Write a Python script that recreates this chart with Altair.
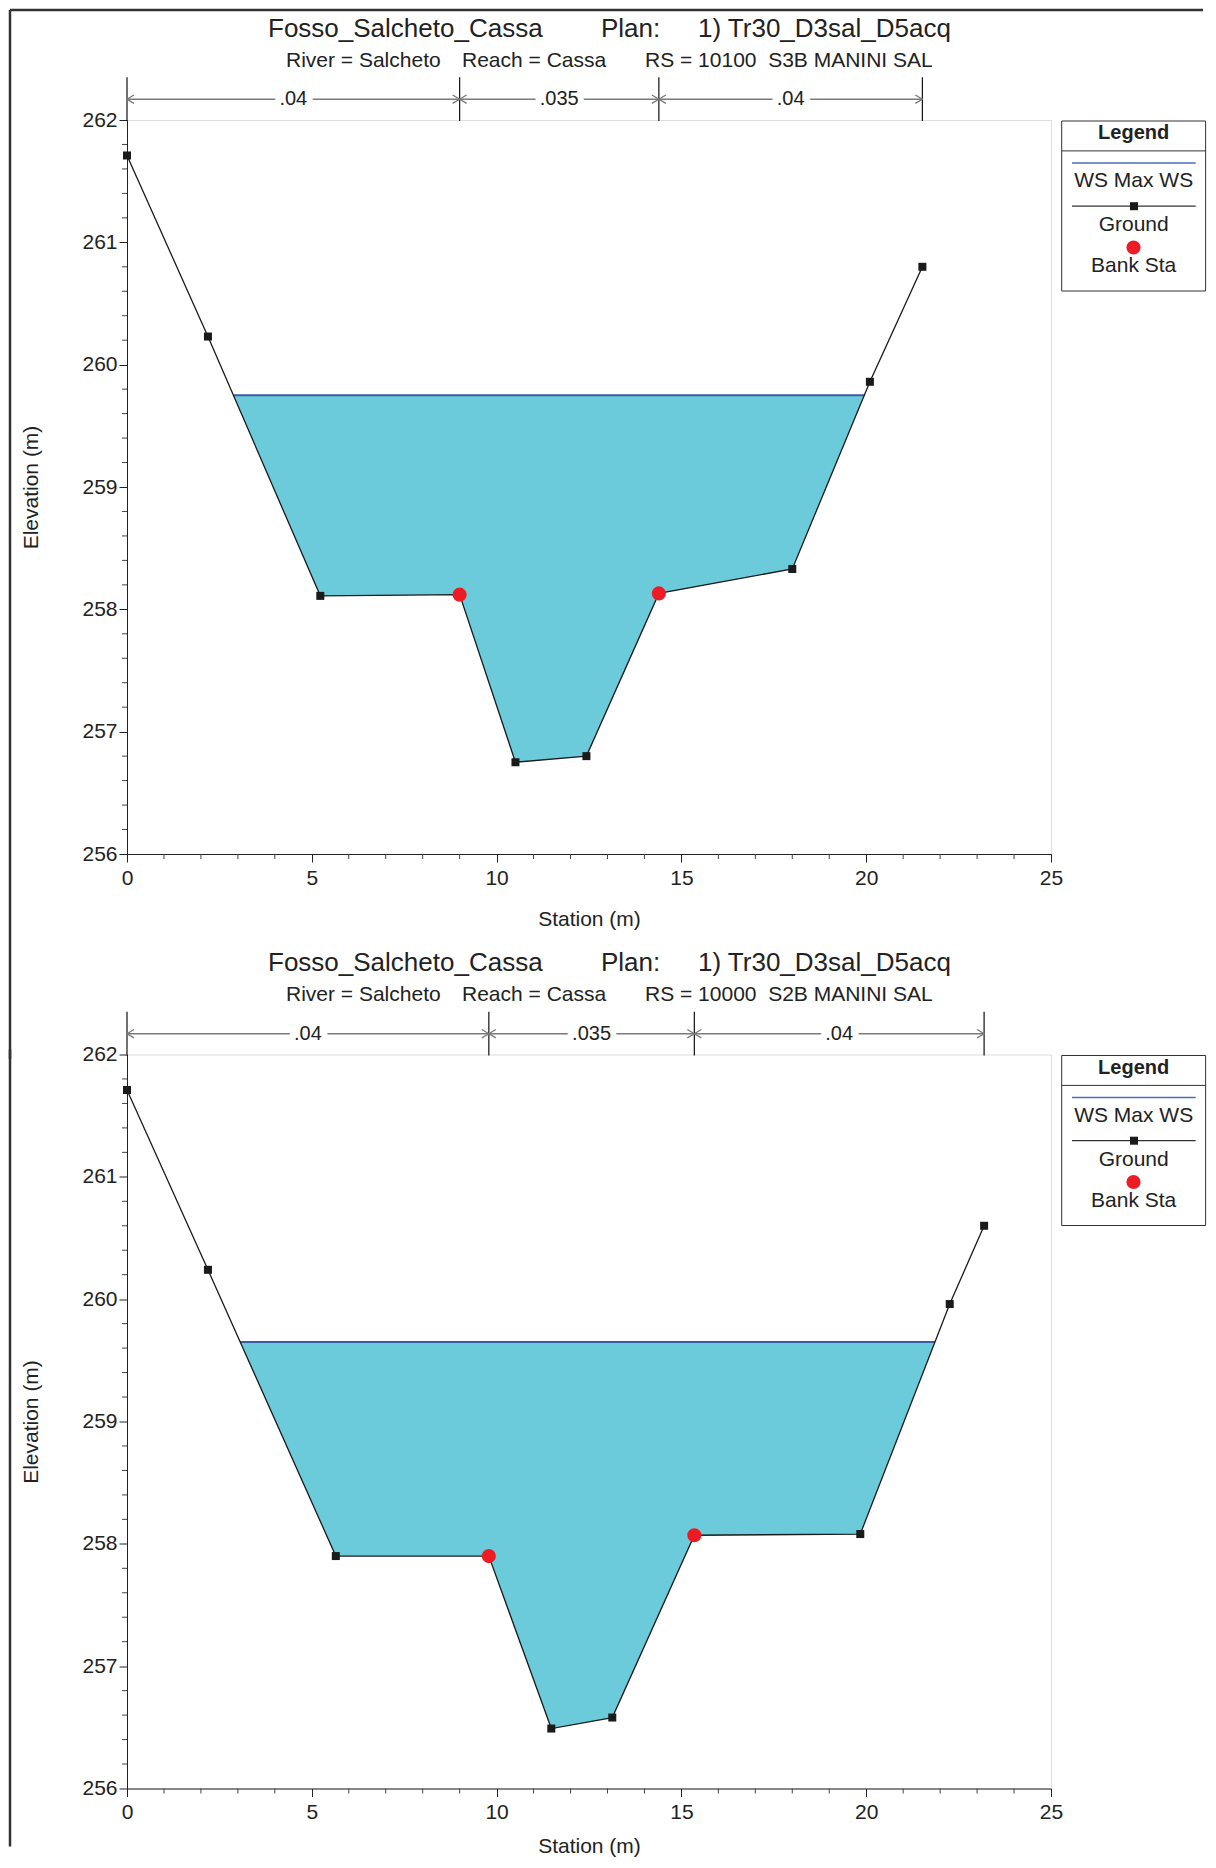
import altair as alt
import pandas as pd
import numpy as np

FONT = "Liberation Sans"
TXT = "#222222"

# ---------------- data ----------------
title_left = "Fosso_Salcheto_Cassa"
title_mid = "Plan:"
title_right = "1) Tr30_D3sal_D5acq"
sub_river = "River = Salcheto"
sub_reach = "Reach = Cassa"

# Panel 1 : RS 10100
rs_1 = "RS = 10100\u00a0\u00a0S3B MANINI SAL"
sta_1 = [0.0, 2.19, 5.23, 9.00, 10.51, 12.43, 14.39, 18.00, 20.10, 21.52]
elev_1 = [261.71, 260.23, 258.11, 258.12, 256.75, 256.80, 258.13, 258.33, 259.86, 260.80]
bank_1 = [9.00, 14.39]
ws_1 = 259.75
ws_edges_1 = [2.88, 19.95]
nbounds_1 = [0.0, 9.00, 14.39, 21.52]

# Panel 2 : RS 10000
rs_2 = "RS = 10000\u00a0\u00a0S2B MANINI SAL"
sta_2 = [0.0, 2.19, 5.65, 9.79, 11.48, 13.13, 15.35, 19.84, 22.26, 23.19]
elev_2 = [261.71, 260.24, 257.90, 257.90, 256.49, 256.58, 258.07, 258.08, 259.96, 260.60]
bank_2 = [9.79, 15.35]
ws_2 = 259.65
ws_edges_2 = [3.06, 21.86]
nbounds_2 = [0.0, 9.79, 15.35, 23.19]

n_values = [".04", ".035", ".04"]

x_major = [0, 5, 10, 15, 20, 25]
y_major = [256, 257, 258, 259, 260, 261, 262]

legend_items = ["WS Max WS", "Ground", "Bank Sta"]

# ---------------- layout constants ----------------
W, H = 924, 734
WATER = "#6CCBDB"
WSCOL = "#3A5BA9"
BANKCOL = "#ED1C24"
GRAY = "#7a7a7a"

xscale = alt.Scale(domain=[0, 25], nice=False, zero=False)
yscale = alt.Scale(domain=[256, 262], nice=False, zero=False)
yaxis = alt.Axis(values=y_major, title="Elevation (m)", labelFont=FONT, labelFontSize=21,
                 labelColor=TXT, labelPadding=2, labelFlush=False, tickSize=8,
                 tickColor=TXT, domainColor=TXT, grid=False, titleFont=FONT,
                 titleFontSize=21, titleFontWeight="normal", titleColor=TXT,
                 titleX=-96, titleY=H / 2, titleAngle=270, titleBaseline="middle",
                 titleAlign="center")


def make_xaxis(title_y):
    return alt.Axis(values=x_major, title="Station (m)", labelFont=FONT, labelFontSize=21,
                    labelColor=TXT, labelPadding=5, labelFlush=False, tickSize=8,
                    tickColor=TXT, domainColor=TXT, grid=False, titleFont=FONT,
                    titleFontSize=21, titleFontWeight="normal", titleColor=TXT,
                    titleX=W / 2, titleY=title_y, titleBaseline="middle",
                    titleAlign="center")


dummy = pd.DataFrame({"d": [0]})


def ptext(txt, x, y, size=21, weight="normal", align="left"):
    return alt.Chart(dummy).mark_text(text=txt, font=FONT, fontSize=size, fontWeight=weight,
                                      align=align, baseline="middle", color=TXT).encode(
        x=alt.value(x), y=alt.value(y))


def prule(x1, y1, x2, y2, color, width):
    return alt.Chart(dummy).mark_rule(color=color, strokeWidth=width).encode(
        x=alt.value(x1), y=alt.value(y1), x2=alt.value(x2), y2=alt.value(y2))


def panel(sta, elev, bank, ws, edges, nb, rs, top):
    xaxis = make_xaxis(65 if top else 58)

    def X(f):
        return alt.X(f, type="quantitative", scale=xscale, axis=xaxis)

    def Y(f):
        return alt.Y(f, type="quantitative", scale=yscale, axis=yaxis)

    ground = pd.DataFrame({"sta": sta, "elev": elev})
    inside = ground[(ground.sta > edges[0]) & (ground.sta < edges[1])]
    water = pd.concat([
        pd.DataFrame({"sta": [edges[0]], "elev": [ws]}),
        inside,
        pd.DataFrame({"sta": [edges[1]], "elev": [ws]}),
    ], ignore_index=True)
    water["ws"] = ws
    banks = ground[ground.sta.isin(bank)]
    wsdf = pd.DataFrame({"x1": [edges[0]], "x2": [edges[1]], "ws": [ws]})
    zones = pd.DataFrame({"lo": nb[:-1], "hi": nb[1:], "label": n_values})
    zones["mid"] = (zones.lo + zones.hi) / 2
    bounds = pd.DataFrame({"b": nb})
    xminor = pd.DataFrame({"t": [v for v in range(0, 26) if v % 5 != 0]})
    yminor = pd.DataFrame({"t": [round(256 + 0.2 * i, 1) for i in range(31) if i % 5 != 0]})

    layers = []
    layers.append(alt.Chart(water).mark_area(color=WATER, opacity=1).encode(
        x=X("sta"), y=Y("elev"), y2="ws"))
    layers.append(alt.Chart(wsdf).mark_rule(color=WSCOL, strokeWidth=2).encode(
        x=X("x1"), x2="x2", y=Y("ws")))
    layers.append(alt.Chart(ground).mark_line(color="#1a1a1a", strokeWidth=1.3).encode(
        x=X("sta"), y=Y("elev"), order="sta:Q"))
    layers.append(alt.Chart(ground).mark_point(shape="square", filled=True, size=64,
                                               color="#1a1a1a", opacity=1).encode(
        x=X("sta"), y=Y("elev")))
    layers.append(alt.Chart(banks).mark_point(shape="circle", filled=True, size=200,
                                              color=BANKCOL, opacity=1).encode(
        x=X("sta"), y=Y("elev")))
    # minor ticks
    layers.append(alt.Chart(xminor).mark_rule(color="#444", strokeWidth=1).encode(
        x=X("t"), y=alt.value(H), y2=alt.value(H + 5)))
    layers.append(alt.Chart(yminor).mark_rule(color="#444", strokeWidth=1).encode(
        y=Y("t"), x=alt.value(-5), x2=alt.value(0)))
    # Manning's n brackets
    AY = -20.8
    layers.append(alt.Chart(bounds).mark_rule(color="#111", strokeWidth=1.2).encode(
        x=X("b"), y=alt.value(-42.8), y2=alt.value(1)))
    layers.append(alt.Chart(zones).mark_rule(color=GRAY, strokeWidth=1.5).encode(
        x=X("lo"), x2="hi", y=alt.value(AY)))
    layers.append(alt.Chart(zones).mark_point(shape="M1,-0.6L0,0L1,0.6", filled=False,
                                              size=196, color=GRAY, strokeWidth=1.3,
                                              opacity=1).encode(
        x=X("lo"), y=alt.value(AY)))
    layers.append(alt.Chart(zones).mark_point(shape="M-1,-0.6L0,0L-1,0.6", filled=False,
                                              size=196, color=GRAY, strokeWidth=1.3,
                                              opacity=1).encode(
        x=X("hi"), y=alt.value(AY)))
    layers.append(alt.Chart(zones).mark_text(font=FONT, fontSize=20, baseline="middle",
                                             align="center", fill="white", stroke="white",
                                             strokeWidth=12).encode(
        x=X("mid"), y=alt.value(AY), text="label:N"))
    layers.append(alt.Chart(zones).mark_text(font=FONT, fontSize=20, baseline="middle",
                                             align="center", color=TXT).encode(
        x=X("mid"), y=alt.value(AY), text="label:N"))
    # titles
    layers += [
        ptext(title_left, 141, -91.2, size=26),
        ptext(title_mid, 474, -91.2, size=26),
        ptext(title_right, 571, -91.2, size=26),
        ptext(sub_river, 159, -59.1, size=21),
        ptext(sub_reach, 335, -59.1, size=21),
        ptext(rs, 518, -59.1, size=21),
    ]
    # legend box
    LX1, LX2, LY1, LY2 = 934.7, 1078.6, 1, 171
    LC = (LX1 + LX2) / 2
    layers.append(alt.Chart(dummy).mark_rect(fill="white", stroke="#333", strokeWidth=1).encode(
        x=alt.value(LX1), x2=alt.value(LX2), y=alt.value(LY1), y2=alt.value(LY2)))
    layers.append(prule(LX1, 30.9, LX2, 30.9, "#333", 1))
    layers.append(ptext("Legend", LC, 13, size=20, weight="bold", align="center"))
    layers.append(prule(945, 42.9, 1068.7, 42.9, "#4a6fb8", 1.5))
    layers.append(ptext(legend_items[0], LC, 61, size=21, align="center"))
    layers.append(prule(945, 86.2, 1068.7, 86.2, "#333", 1.2))
    layers.append(alt.Chart(dummy).mark_point(shape="square", filled=True, size=64,
                                              color="#1a1a1a", opacity=1).encode(
        x=alt.value(1007), y=alt.value(86.2)))
    layers.append(ptext(legend_items[1], LC, 105.2, size=21, align="center"))
    layers.append(alt.Chart(dummy).mark_point(shape="circle", filled=True, size=200,
                                              color=BANKCOL, opacity=1).encode(
        x=alt.value(1006.5), y=alt.value(127.5)))
    layers.append(ptext(legend_items[2], LC, 146.2, size=21, align="center"))
    # page frame (left and top edges)
    if top:
        layers.append(prule(-117, -110, 1076, -110, "#333", 2.5))
        layers.append(prule(-117, -110, -117, H + 205, "#333", 2.5))
    else:
        layers.append(prule(-117, -5, -117, 792, "#333", 2.5))

    return alt.layer(*layers).properties(width=W, height=H)


p1 = panel(sta_1, elev_1, bank_1, ws_1, ws_edges_1, nbounds_1, rs_1, True)
p2 = panel(sta_2, elev_2, bank_2, ws_2, ws_edges_2, nbounds_2, rs_2, False)

chart = alt.vconcat(p1, p2, spacing=200.5, bounds="flush").properties(
    padding=0, background="white"
).configure_view(strokeWidth=0).configure(font=FONT)

chart.save("out.html", embed_options={"renderer": "svg", "actions": False})
